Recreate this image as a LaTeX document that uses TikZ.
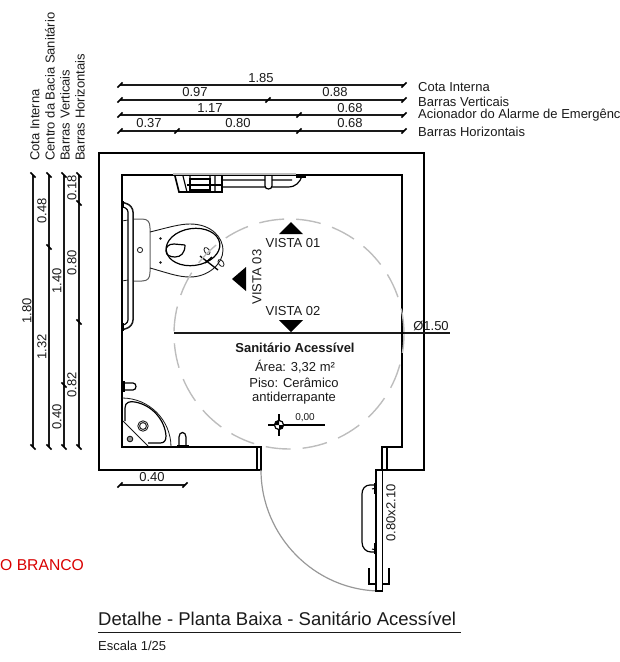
\documentclass[tikz,border=0pt]{standalone}
\usepackage{fontspec}
\setmainfont{Liberation Sans}
\definecolor{ink}{HTML}{1A1A1A}
\definecolor{circ}{HTML}{BDBDBD}
\newcommand{\ltx}[1]{\fontsize{#1}{#1}\selectfont}
\tikzset{
  wall/.style={draw=black,line width=1.9pt},
  dimline/.style={draw=ink,line width=1.3pt},
  tickm/.style={draw=black,line width=1.6pt},
  fix/.style={draw=black,line width=1.2pt},
  fixthin/.style={draw=ink,line width=.8pt},
  label/.style={inner sep=0pt,text=ink,font=\ltx{13}},
  vlabel/.style={label,rotate=90},
  legend/.style={label,anchor=west},
  vlegend/.style={label,rotate=90,anchor=west},
  htick/.pic={\draw[tickm] (-2.6,2.6) -- (2.6,-2.6);},
  vtick/.pic={\draw[tickm] (-2.6,-2.6) -- (2.6,2.6);},
}
\begin{document}
\begin{tikzpicture}[x=1pt,y=-1pt]
\useasboundingbox (0,0) rectangle (620,662);
% horizontal dimensions
\foreach \yy/\xs in {85/{120,404},100/{120,268,404},115/{120,299,404},131/{120,177,299,404}}{
  \draw[dimline] (120,\yy) -- (404,\yy);
  \foreach \xx in \xs { \path (\xx,\yy) pic {htick}; }
}
\node[label] (h185) at (261,78) {1.85};
\node[label] (h097) at (195,92.5) {0.97};
\node[label] (h088) at (335,92.5) {0.88};
\node[label] (h117) at (210,108) {1.17};
\node[label] (h068a) at (350,108) {0.68};
\node[label] (h037) at (149,123) {0.37};
\node[label] (h080) at (238,123) {0.80};
\node[label] (h068b) at (350,123) {0.68};
\node[legend] (l1) at (418,87) {Cota Interna};
\node[legend] (l2) at (418,102) {Barras Verticais};
\node[legend] (l3) at (418,115) {Acionador do Alarme de Emergência};
\node[legend] (l4) at (418,132) {Barras Horizontais};
% vertical dimensions
\foreach \xx/\ys in {33/{175,447},49/{175,247,447},64/{175,385,447},79/{175,203,322,447}}{
  \draw[dimline] (\xx,175) -- (\xx,447);
  \foreach \yy in \ys { \path (\xx,\yy) pic {vtick}; }
}
\node[vlegend] (v1) at (35,161) {Cota Interna};
\node[vlegend] (v2) at (50,161) {Centro da Bacia Sanitário};
\node[vlegend] (v3) at (65,161) {Barras Verticais};
\node[vlegend] (v4) at (80,161) {Barras Horizontais};
\node[vlabel] (d180) at (27,311) {1.80};
\node[vlabel] (d048) at (42,211) {0.48};
\node[vlabel] (d132) at (42,347) {1.32};
\node[vlabel] (d140) at (57,281) {1.40};
\node[vlabel] (d040) at (57,417) {0.40};
\node[vlabel] (d018) at (72,188) {0.18};
\node[vlabel] (d080) at (72,263) {0.80};
\node[vlabel] (d082) at (72,385) {0.82};
% walls
\draw[wall] (261,470) -- (99,470) -- (99,153) -- (424,153) -- (424,470) -- (387,470);
\draw[wall] (257,447) -- (122,447) -- (122,175) -- (402,175) -- (402,447) -- (382,447);
\draw[fix] (257,447) rectangle (261,470);
\draw[fix] (382,447) rectangle (387,470);
\draw[draw=circ,line width=2pt] (173,173.6) -- (296,173.6);
% 0.40
\draw[dimline] (120,485) -- (185,485);
\path (120,485) pic {htick} (185,485) pic {htick};
\node[label] (d040h) at (152,477) {0.40};
% top bar and basket
\draw[line width=1.6pt,draw=black] (175,176) -- (179,192) -- (222,192) -- (222,176);
\draw[fix] (183,176) -- (187,192) (190,176) -- (190,192) (210,176) -- (210,192) (215,176) -- (215,192);
\draw[line width=1.5pt,draw=black] (190,179) rectangle (210,190);
\draw[line width=1.6pt,draw=black] (187,185) -- (222,185);
\draw[fix] (222,180) -- (265,180) (272,180) -- (292,180) (222,187) -- (265,187) (272,187) -- (288,187) .. controls (296,187) and (300,182) .. (302,176);
\draw[fix] (265,176) -- (265,186) .. controls (265,190) and (272,190) .. (272,186) -- (272,176);
\draw[line width=2pt,draw=black] (296,177) -- (306,177);
% left bar
\draw[line width=1.5pt,draw=ink,rounded corners=6pt] (122,202) -- (133,206) -- (133,326) -- (122,330);
\draw[fix,rounded corners=3pt] (123,207) -- (128,209) -- (128,323) -- (123,325);
\draw[line width=2.4pt,draw=black] (123,201) -- (123,208) (123,323) -- (123,331);
\draw[fixthin] (122,221) -- (128,220) (122,281) -- (128,280);
% toilet
\draw[draw=ink!70,line width=1pt] (134,219) -- (142,219) .. controls (148,219) and (150,222) .. (150,228) -- (150,272) .. controls (150,278) and (148,281) .. (142,281) -- (134,281);
\draw[draw=ink,line width=.9pt] (150,232) .. controls (170,227) and (180,224) .. (190,224)
   .. controls (212,224) and (223,238) .. (223,250)
   .. controls (223,264) and (208,277) .. (190,277)
   .. controls (178,277) and (168,273) .. (150,268);
\draw[fix,rotate around={8:(193,247)}] (193,247) ellipse [x radius=27,y radius=18.5];
\draw[fix] (185,245) -- (174,244) .. controls (168,244) and (166,247) .. (166,251) .. controls (166,255) and (170,257) .. (175,257) .. controls (181,257) and (185,253) .. (185,245);
\fill[ink] (160.5,238.5) circle (1.4) (160.5,262.5) circle (1.4);
\draw[draw=ink,line width=.8pt] (140,250) circle (2.6);
\draw[line width=1.3pt,draw=black] (200,256) -- (218,270) (205,263) -- (212,257);
\draw[fixthin,rotate around={-55:(207,251)}] (207,251) ellipse [x radius=4,y radius=2.4];
\draw[fixthin,rotate around={-55:(221,263)}] (221,263) ellipse [x radius=4,y radius=2.4];
% sink
\draw[draw=ink,line width=.8pt] (122,398) arc[start angle=-90,end angle=0,radius=49];
\draw[fix] (125,421) -- (125,408) .. controls (125,402) and (130,401) .. (135,402) .. controls (152,405) and (165,420) .. (166,436) .. controls (166,441) and (164,443) .. (160,443) -- (148,443);
\draw[fixthin] (123,421) -- (148,446);
\draw[draw=ink,line width=.9pt] (143,426) circle (5.2) circle (3.4);
\draw[draw=ink,line width=.9pt,fill=ink!45] (130,439) circle (2.8);
\draw[fix] (123,383) -- (133,383) .. controls (137,383) and (137,390) .. (133,390) -- (123,390);
\draw[line width=2pt,draw=black] (123.5,381) -- (123.5,392);
\draw[fix] (179,446) -- (179,437) .. controls (179,431) and (186,431) .. (186,437) -- (186,446);
\draw[line width=2pt,draw=black] (177,445.5) -- (189,445.5);
% dashed circle and diameter
\draw[draw=circ,line width=1.4pt,dash pattern=on 25pt off 12pt,dash phase=6pt] (289,334) circle (115);
\draw[line width=1.4pt,draw=ink] (174,333) -- (450,333);
\fill[black] (402,333) circle (1.8);
\node[label] (diam) at (431,326) {Ø1.50};
% views
\fill[black] (291,222) -- (303,234) -- (279,234) -- cycle;
\fill[black] (291,332) -- (303,320) -- (279,320) -- cycle;
\fill[black] (232,279) -- (246,267) -- (246,291) -- cycle;
\node[label] (va) at (293,243) {VISTA 01};
\node[label] (vb) at (293,311) {VISTA 02};
\node[vlabel] (vc) at (257,277) {VISTA 03};
% room text
\node[label,font=\ltx{13}\bfseries] (rt) at (295,348) {Sanitário Acessível};
\node[label] (ra) at (295,367) {Área: 3,32 m²};
\node[label] (rp) at (294,383) {Piso: Cerâmico};
\node[label] (rq) at (294,398) {antiderrapante};
% level mark
\draw[line width=1.3pt,draw=black] (268,425) -- (325,425) (279,414) -- (279,436);
\draw[line width=1.2pt,draw=black,fill=white] (279,425) circle (4.6);
\fill[black] (279,425) -- (283.6,425) arc[start angle=0,end angle=90,radius=4.6] -- cycle;
\fill[black] (279,425) -- (274.4,425) arc[start angle=180,end angle=270,radius=4.6] -- cycle;
\node[label,font=\ltx{10}] (lv) at (305,418) {0,00};
% door
\draw[draw=ink!45,line width=1.2pt] (261,470) .. controls (261,536) and (315,591) .. (381,591);
\draw[draw=black,line width=1.2pt] (376,470) rectangle (382.5,591);
\draw[draw=black,line width=1.2pt] (387,470) -- (376,470);
\draw[line width=1.2pt,draw=black] (376,485) -- (370,485) .. controls (365,485) and (362,489) .. (362,494) -- (362,542) .. controls (362,548) and (366,552) .. (371,552) -- (376,552);
\draw[line width=1pt,draw=black] (376,488) -- (372,489) (376,550) -- (372,549);
\draw[line width=2pt,draw=black] (375,483) -- (375,494) (375,543) -- (375,554);
\draw[line width=1.8pt,draw=black] (369,568) -- (369,584) -- (376,584) (389,568) -- (389,584) -- (382,584);
\node[vlabel] (dr) at (391,513) {0.80x2.10};
% titles
\node[inner sep=0pt,anchor=west,text=red!85!black,font=\ltx{15.7}] (red) at (0,565) {O BRANCO};
\node[inner sep=0pt,anchor=base west,text=ink,font=\ltx{18.5}] (ttl) at (98,625) {Detalhe - Planta Baixa - Sanitário Acessível};
\draw[draw=ink,line width=.9pt] (98,632) -- (461,632);
\node[inner sep=0pt,anchor=base west,text=ink,font=\ltx{13}] (esc) at (98,650) {Escala 1/25};
\end{tikzpicture}
\end{document}
